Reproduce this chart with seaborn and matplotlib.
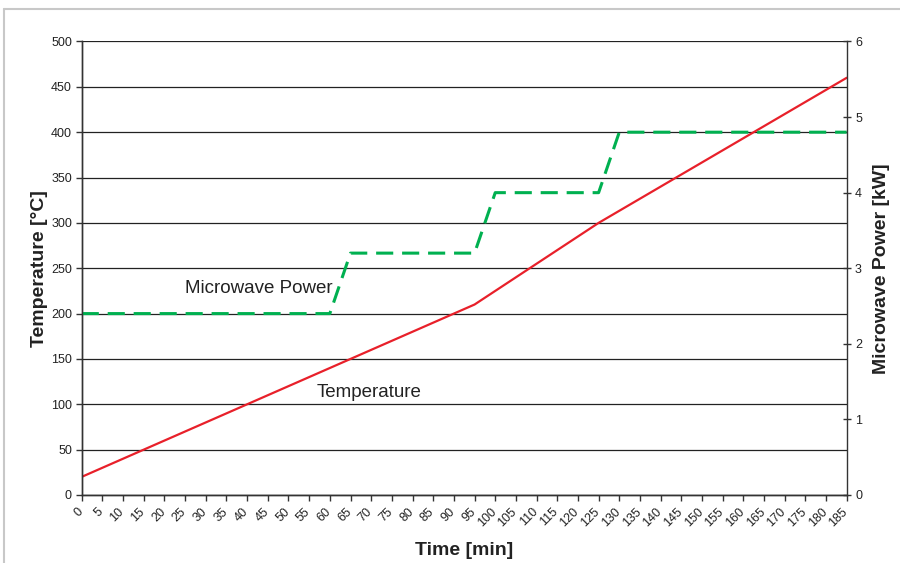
import matplotlib
matplotlib.use("Agg")
import matplotlib.pyplot as plt
from matplotlib.lines import Line2D
from matplotlib.transforms import ScaledTranslation
import seaborn as sns
import pandas as pd

# Data
temp_time = [0, 95, 125, 185]
temp_values = [20, 210, 300, 460]
power_time = [0, 60, 65, 95, 100, 125, 130, 185]
power_values = [2.4, 2.4, 3.2, 3.2, 4.0, 4.0, 4.8, 4.8]
x_ticks = list(range(0, 186, 5))
left_ticks = list(range(0, 501, 50))
right_ticks = [0, 1, 2, 3, 4, 5, 6]

sns.set_theme(style="white")
plt.rcParams["font.family"] = ["Liberation Sans", "DejaVu Sans"]

fig = plt.figure(figsize=(9, 5.63), dpi=100)
ax = fig.add_axes([0.0908, 0.1208, 0.85, 0.8055])
ax2 = ax.twinx()

temp_df = pd.DataFrame({"Time": temp_time, "Temperature": temp_values})
power_df = pd.DataFrame({"Time": power_time, "Power": power_values})

# Gridlines
ax.set_axisbelow(True)
ax.yaxis.grid(True, color="#222222", linewidth=0.9)
ax.xaxis.grid(False)

sns.lineplot(data=temp_df, x="Time", y="Temperature", ax=ax,
             color="#e8202a", linewidth=1.6)
sns.lineplot(data=power_df, x="Time", y="Power", ax=ax2,
             color="#00b050", linewidth=2.2)
ax2.lines[-1].set_linestyle((0, (5.6, 2.9)))

ax.set_xlim(0, 185)
ax.set_ylim(0, 500)
ax2.set_ylim(0, 6)

ax.tick_params(axis="x", direction="out", length=4, width=1, color="#333333",
               bottom=True, pad=3)
ax.tick_params(axis="y", direction="out", length=4, width=1, color="#333333",
               left=True, pad=3)
ax2.tick_params(axis="y", direction="inout", length=6, width=1, color="#333333",
                right=True, pad=3)

ax.set_xticks(x_ticks)
ax.set_xticklabels([str(t) for t in x_ticks], rotation=45, ha="right",
                   rotation_mode="anchor", fontsize=9, color="#222222")
ax.set_yticks(left_ticks)
ax.set_yticklabels([str(t) for t in left_ticks], fontsize=9, color="#222222")
ax2.set_yticks(right_ticks)
ax2.set_yticklabels([str(t) for t in right_ticks], fontsize=9, color="#222222")

offset = ScaledTranslation(-5 / 100, -1 / 100, fig.dpi_scale_trans)
for lbl in ax.get_xticklabels():
    lbl.set_transform(lbl.get_transform() + offset)

for a in (ax, ax2):
    for s in a.spines.values():
        s.set_color("#333333")
        s.set_linewidth(1.0)
    a.spines["top"].set_visible(False)
ax.spines["right"].set_visible(False)

ax.set_xlabel("Time [min]", fontsize=14, fontweight="bold", color="#222222",
              labelpad=9)
ax.set_ylabel("Temperature [°C]", fontsize=14, fontweight="bold",
              color="#222222", labelpad=2)
ax2.set_ylabel("Microwave Power [kW]", fontsize=14, fontweight="bold",
               color="#222222", labelpad=8)

ax.text(42.9, 228, "Microwave Power", fontsize=13.5, color="#222222",
        ha="center", va="center")
ax.text(69.4, 113, "Temperature", fontsize=13.5, color="#222222",
        ha="center", va="center")

# Figure frame (light gray, left and top)
fig.add_artist(Line2D([4 / 900, 4 / 900], [0, 1 - 9 / 563],
                      transform=fig.transFigure, color="#c8c8c8", lw=1.5))
fig.add_artist(Line2D([4 / 900, 1], [1 - 9 / 563, 1 - 9 / 563],
                      transform=fig.transFigure, color="#c8c8c8", lw=1.5))

fig.savefig("out.png", dpi=100, facecolor="white")
